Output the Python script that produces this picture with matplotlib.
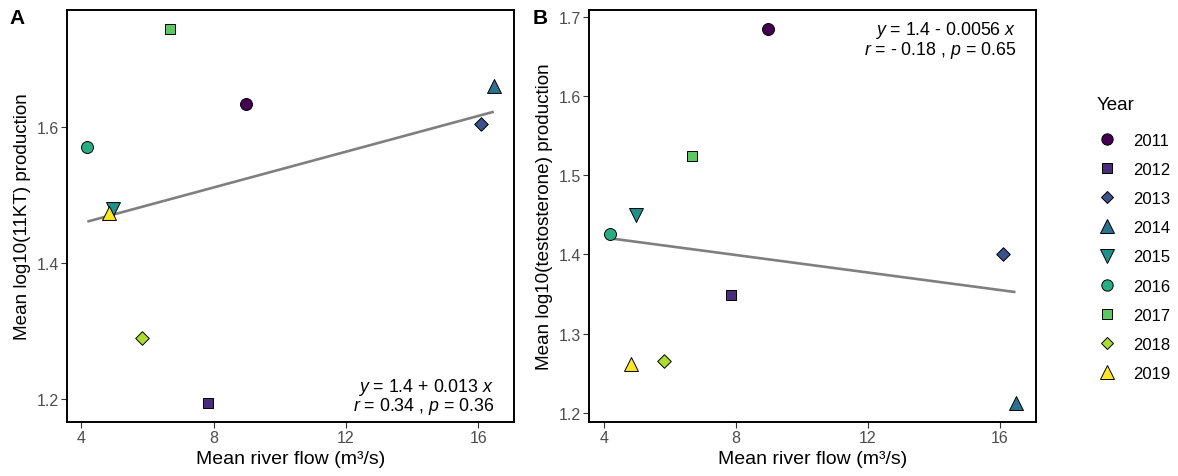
import numpy as np
import matplotlib
matplotlib.use("Agg")
import matplotlib.pyplot as plt
from matplotlib.lines import Line2D

# ==========================================
# DATA
# ==========================================
years = [2011, 2012, 2013, 2014, 2015, 2016, 2017, 2018, 2019]
river_flow = [8.97, 7.84, 16.08, 16.47, 4.97, 4.18, 6.68, 5.83, 4.83]
log_11kt = [1.633, 1.194, 1.604, 1.660, 1.479, 1.571, 1.744, 1.290, 1.474]
log_testo = [1.685, 1.349, 1.400, 1.212, 1.450, 1.426, 1.524, 1.265, 1.261]

year_colors = ['#440154', '#472D7B', '#3B528B', '#2C728E', '#21908C',
               '#27AD81', '#5DC863', '#AADC32', '#FDE725']
year_markers = ['o', 's', 'D', '^', 'v', 'o', 's', 'D', '^']
marker_sizes = {'o': 8.6, 's': 7.8, 'D': 6.9, '^': 10.0, 'v': 10.0}

x_ticks = [4, 8, 12, 16]
ticks_a = [1.2, 1.4, 1.6]
ticks_b = [1.2, 1.3, 1.4, 1.5, 1.6, 1.7]

eq_a = (r"$\it{y}$ = 1.4 + 0.013 $\it{x}$", r"$\it{r}$ = 0.34 , $\it{p}$ = 0.36")
eq_b = (r"$\it{y}$ = 1.4 - 0.0056 $\it{x}$", r"$\it{r}$ = - 0.18 , $\it{p}$ = 0.65")

plt.rcParams['font.family'] = ['Liberation Sans', 'DejaVu Sans']
plt.rcParams['mathtext.fontset'] = 'custom'
plt.rcParams['mathtext.rm'] = 'Liberation Sans'
plt.rcParams['mathtext.it'] = 'Liberation Sans:italic'

fig = plt.figure(figsize=(11.78, 4.77), dpi=100)
ax_a = fig.add_axes([0.0569, 0.1132, 0.3795, 0.8637])
ax_b = fig.add_axes([0.5003, 0.1132, 0.3790, 0.8637])


def draw_panel(ax, yvals, yticks, ylabel, eq, eq_pos):
    x = np.array(river_flow)
    y = np.array(yvals)

    # linear fit
    slope, intercept = np.polyfit(x, y, 1)
    xs = np.array([x.min(), x.max()])
    ax.plot(xs, intercept + slope * xs, color='#7F7F7F', lw=1.9, zorder=1,
            solid_capstyle='butt')

    for i, yr in enumerate(years):
        m = year_markers[i]
        ax.scatter(x[i], y[i], marker=m, s=marker_sizes[m] ** 2,
                   facecolor=year_colors[i], edgecolor='black', linewidths=0.7,
                   zorder=3)

    xr = x.max() - x.min()
    yr_ = y.max() - y.min()
    ax.set_xlim(x.min() - 0.05 * xr, x.max() + 0.05 * xr)
    ax.set_ylim(y.min() - 0.05 * yr_, y.max() + 0.05 * yr_)

    ax.set_xticks(x_ticks)
    ax.set_yticks(yticks)
    ax.set_yticklabels([f"{t:.1f}" for t in yticks])
    ax.tick_params(length=4, width=0.8, color='#333333', labelcolor='#4D4D4D',
                   labelsize=11.5, pad=2)
    for sp in ax.spines.values():
        sp.set_linewidth(1.4)
        sp.set_color('black')

    ax.set_xlabel('Mean river flow (m³/s)', fontsize=14, labelpad=3)
    ax.set_ylabel(ylabel, fontsize=13.6, labelpad=4)

    xr_, y1, y2 = eq_pos
    ax.text(xr_, y1, eq[0], transform=ax.transAxes, ha='right',
            va='center', fontsize=12.8)
    ax.text(xr_, y2, eq[1], transform=ax.transAxes, ha='right',
            va='center', fontsize=12.8)


draw_panel(ax_a, log_11kt, ticks_a, 'Mean log10(11KT) production', eq_a,
           (0.955, 0.087, 0.040))
draw_panel(ax_b, log_testo, ticks_b, 'Mean log10(testosterone) production', eq_b,
           (0.955, 0.953, 0.905))

fig.text(0.008, 0.962, 'A', fontsize=15, fontweight='bold', va='center')
fig.text(0.452, 0.962, 'B', fontsize=15, fontweight='bold', va='center')

# legend
handles = [Line2D([], [], linestyle='none', marker=year_markers[i],
                  markersize=marker_sizes[year_markers[i]] * 0.95,
                  markerfacecolor=year_colors[i], markeredgecolor='black',
                  markeredgewidth=0.7) for i in range(len(years))]
leg = fig.legend(handles, [str(y) for y in years], title='Year',
                 loc='upper left', bbox_to_anchor=(0.931, 0.796),
                 frameon=False, fontsize=12, title_fontsize=13.5,
                 labelspacing=0.85, handlelength=1.2, handletextpad=1.0,
                 borderaxespad=0, borderpad=0)
leg._legend_box.align = 'left'
leg._legend_box.sep = 14

fig.savefig('out.png', dpi=100)
